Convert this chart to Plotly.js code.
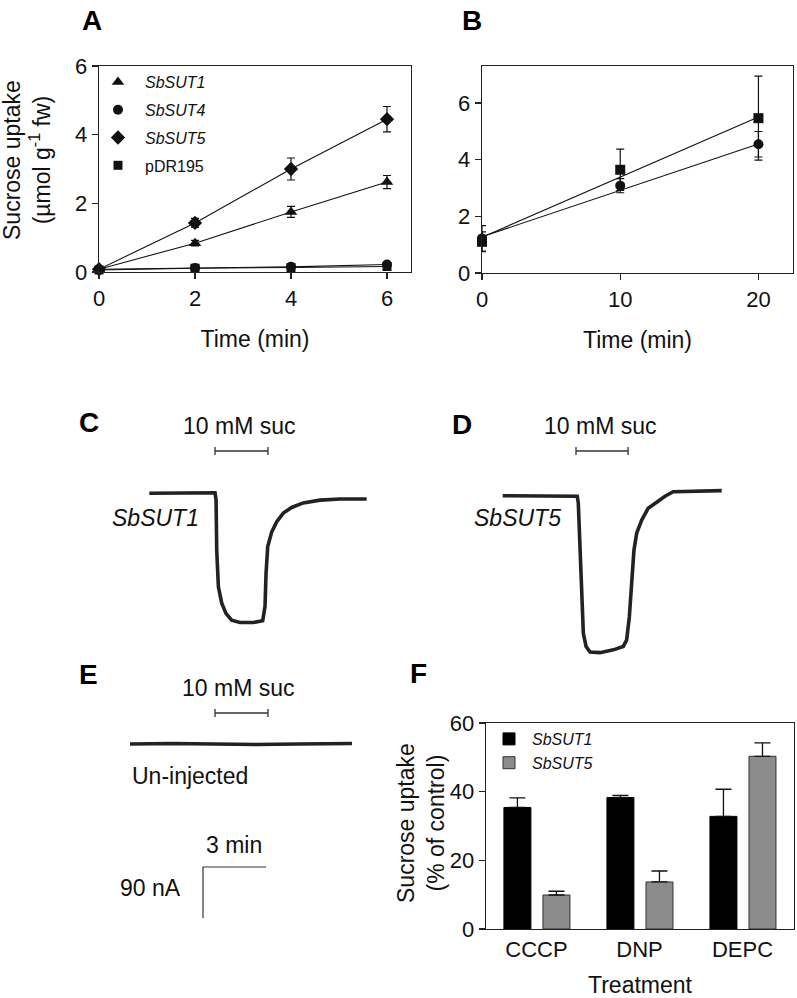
<!DOCTYPE html>
<html><head><meta charset="utf-8">
<script src="https://cdn.plot.ly/plotly-3.0.1.min.js"></script>
<style>html,body{margin:0;padding:0;background:#fff}#chart{width:797px;height:998px}</style>
</head><body><div id="chart"></div>
<script>
// ---------- DATA ----------
// Panel A: sucrose uptake in yeast (umol g-1 fw) vs time (min)
const timeA = [0, 2, 4, 6];
const sut1A = [0.08, 0.84, 1.75, 2.62];
const sut1AErr = [0.02, 0.08, 0.16, 0.19];
const sut4A = [0.08, 0.12, 0.15, 0.22];
const sut4AErr = [0.02, 0.02, 0.03, 0.05];
const sut5A = [0.08, 1.43, 3.0, 4.45];
const sut5AErr = [0.03, 0.13, 0.32, 0.37];
const pdrA = [0.06, 0.11, 0.13, 0.16];
const pdrAErr = [0.02, 0.02, 0.03, 0.03];
const namesA = ['SbSUT1', 'SbSUT4', 'SbSUT5', 'pDR195'];

// Panel B
const timeB = [0, 10, 20];
const circB = [1.22, 3.08, 4.54];
const circBErr = [0.45, 0.25, 0.45];
const sqB = [1.1, 3.64, 5.46];
const sqBErr = [0.35, 0.73, 1.48];
const fitTimeB = [0, 20];
const fitCircB = [1.28, 4.55];
const fitSqB = [1.26, 5.5];

// Panels C-E: current traces, time (min) and current (nA)
const timeC = [0, 3.13, 3.18, 3.21, 3.29, 3.45, 3.65, 3.92, 4.32, 4.95, 5.40, 5.51, 5.56, 5.64, 5.83, 6.07, 6.38, 6.78, 7.33, 8.13, 9.08, 10.35];
const currC = [0, 1, -12, -100, -165, -194, -212, -224, -228, -228, -225, -200, -141, -94, -68, -50, -35, -25, -17, -12, -10, -10];
const timeD = [0, 3.55, 3.60, 3.68, 3.76, 3.84, 3.97, 4.16, 4.63, 5.27, 5.74, 5.90, 6.03, 6.14, 6.25, 6.38, 6.62, 6.93, 7.33, 7.73, 8.12, 8.92, 10.43];
const currD = [0, -1, -13, -96, -184, -243, -266, -276, -277, -272, -266, -255, -214, -155, -96, -66, -43, -22, -11, -1, 7, 8, 9];
const timeE = [0, 2, 4, 5, 6, 8, 10.57];
const currE = [0, 1, 0, -1, -1, 0, 1];
const sucC = [3.13, 5.65];
const sucD = [3.49, 5.97];
const sucE = [4.05, 6.57];
const traceLabels = ['SbSUT1', 'SbSUT5', 'Un-injected'];
const sucLabel = '10 mM suc';
const scaleMin = 3;
const scaleNA = 90;

// Panel F
const treatments = ['CCCP', 'DNP', 'DEPC'];
const sut1F = [35.4, 38.3, 32.8];
const sut1FErr = [2.8, 0.6, 7.9];
const sut5F = [9.9, 13.7, 50.3];
const sut5FErr = [1.1, 3.2, 3.9];
const namesF = ['SbSUT1', 'SbSUT5'];

// ---------- LAYOUT HELPERS ----------
const W = 797, H = 998;
const FONT = 'Liberation Sans, Arial, Helvetica, sans-serif';
const fx = p => p / W;
const fy = p => 1 - p / H;
const xdom = (a, b) => [fx(a), fx(b)];
const ydom = (top, bottom) => [fy(bottom), fy(top)];
const PX_PER_MIN = 21, PX_PER_NA = 51 / 90;

function traceAxes(x0, x1, top, bottom, ox, oy, n) {
  return {
    x: {domain: xdom(x0, x1), range: [(x0 - ox) / PX_PER_MIN, (x1 - ox) / PX_PER_MIN], visible: false, anchor: 'y' + n, fixedrange: true},
    y: {domain: ydom(top, bottom), range: [-(bottom - oy) / PX_PER_NA, (oy - top) / PX_PER_NA], visible: false, anchor: 'x' + n, fixedrange: true}
  };
}

const axStyle = {
  showline: true, linecolor: '#222', linewidth: 1.3, mirror: true,
  ticks: 'outside', ticklen: 6, tickwidth: 1.3, tickcolor: '#222',
  showgrid: false, zeroline: false,
  tickfont: {family: FONT, size: 22, color: '#111'}
};

const traces = [];
const ink = '#111';
const errStyle = (arr) => ({type: 'data', array: arr, visible: true, color: ink, thickness: 1.2, width: 4});

// Panel A lines
[sut1A, sut4A, sut5A, pdrA].forEach(v => traces.push({
  x: timeA, y: v, xaxis: 'x', yaxis: 'y', mode: 'lines', showlegend: false,
  line: {color: ink, width: 1.1}, cliponaxis: false, hoverinfo: 'skip'
}));
// Panel A markers
const symA = ['triangle-up', 'circle', 'diamond', 'square'];
const sizeA = [11, 10, 11, 9];
[[sut1A, sut1AErr], [sut4A, sut4AErr], [sut5A, sut5AErr], [pdrA, pdrAErr]].forEach((d, i) => traces.push({
  x: timeA, y: d[0], error_y: errStyle(d[1]), xaxis: 'x', yaxis: 'y', mode: 'markers',
  name: i < 3 ? '<i>' + namesA[i] + '</i>' : namesA[i], legend: 'legend', legendgroup: 'a' + i,
  marker: {symbol: symA[i], size: sizeA[i], color: ink}, cliponaxis: false
}));

// Panel B
traces.push({x: fitTimeB, y: fitSqB, xaxis: 'x2', yaxis: 'y2', mode: 'lines', showlegend: false, line: {color: ink, width: 1.1}, cliponaxis: false});
traces.push({x: fitTimeB, y: fitCircB, xaxis: 'x2', yaxis: 'y2', mode: 'lines', showlegend: false, line: {color: ink, width: 1.1}, cliponaxis: false});
traces.push({x: timeB, y: sqB, error_y: errStyle(sqBErr), xaxis: 'x2', yaxis: 'y2', mode: 'markers', showlegend: false, marker: {symbol: 'square', size: 10, color: ink}, cliponaxis: false});
traces.push({x: timeB, y: circB, error_y: errStyle(circBErr), xaxis: 'x2', yaxis: 'y2', mode: 'markers', showlegend: false, marker: {symbol: 'circle', size: 10, color: ink}, cliponaxis: false});

// Panels C, D, E geometry (pixel boxes and trace origin)
const geo = {
  C: {box: [100, 390, 400, 640], o: [149.3, 493.3], n: 3},
  D: {box: [460, 790, 400, 670], o: [502.7, 495.7], n: 4},
  E: {box: [100, 390, 660, 935], o: [130, 744], n: 5}
};
const sucBarPy = {C: 451, D: 451, E: 713};
const capNA = 4 / PX_PER_NA;
const ephys = [['C', timeC, currC, sucC], ['D', timeD, currD, sucD], ['E', timeE, currE, sucE]];
ephys.forEach(([k, t, c, s]) => {
  const g = geo[k];
  traces.push({x: t, y: c, xaxis: 'x' + g.n, yaxis: 'y' + g.n, mode: 'lines', showlegend: false,
    line: {color: '#222', width: 3.6}, cliponaxis: false});
  const lvl = (g.o[1] - sucBarPy[k]) / PX_PER_NA;
  traces.push({x: s, y: [lvl, lvl], xaxis: 'x' + g.n, yaxis: 'y' + g.n, mode: 'lines', showlegend: false,
    line: {color: '#333', width: 1.3},
    error_y: {type: 'data', array: [capNA, capNA], color: '#333', thickness: 1.3, width: 0}, cliponaxis: false});
});
// scale bar in E
const sbT0 = (203 - geo.E.o[0]) / PX_PER_MIN;
const sbI0 = -(867 - geo.E.o[1]) / PX_PER_NA;
traces.push({x: [sbT0 + scaleMin, sbT0, sbT0], y: [sbI0, sbI0, sbI0 - scaleNA], xaxis: 'x5', yaxis: 'y5',
  mode: 'lines', showlegend: false, line: {color: '#333', width: 1.2}, cliponaxis: false});

// Panel F
traces.push({x: treatments, y: sut1F, type: 'bar', xaxis: 'x6', yaxis: 'y6', name: '<i>' + namesF[0] + '</i>',
  legend: 'legend2', width: 0.262, offset: -0.316,
  marker: {color: '#000', line: {color: '#000', width: 1}},
  error_y: {type: 'data', symmetric: false, array: sut1FErr, arrayminus: [0, 0, 0], color: '#111', thickness: 1.3, width: 8}});
traces.push({x: treatments, y: sut5F, type: 'bar', xaxis: 'x6', yaxis: 'y6', name: '<i>' + namesF[1] + '</i>',
  legend: 'legend2', width: 0.262, offset: 0.063,
  marker: {color: '#8c8c8c', line: {color: '#333', width: 1}},
  error_y: {type: 'data', symmetric: false, array: sut5FErr, arrayminus: [0, 0, 0], color: '#111', thickness: 1.3, width: 8}});

const tC = traceAxes(...geo.C.box, ...geo.C.o, 3);
const tD = traceAxes(...geo.D.box, ...geo.D.o, 4);
const tE = traceAxes(...geo.E.box, ...geo.E.o, 5);

const titleFont = {family: FONT, size: 23, color: '#111'};
const layout = {
  width: W, height: H, margin: {l: 0, r: 0, t: 0, b: 0},
  paper_bgcolor: '#fff', plot_bgcolor: 'rgba(0,0,0,0)',
  font: {family: FONT, color: '#111'},
  showlegend: true, barmode: 'overlay',
  xaxis: Object.assign({}, axStyle, {domain: xdom(99, 411), range: [0, 6.5], tickvals: [0, 2, 4, 6], anchor: 'y',
    title: {text: 'Time (min)', font: titleFont, standoff: 21}}),
  yaxis: Object.assign({}, axStyle, {domain: ydom(66, 272), range: [0, 6], tickvals: [0, 2, 4, 6], anchor: 'x'}),
  xaxis2: Object.assign({}, axStyle, {domain: xdom(482, 793), range: [0, 22.5], tickvals: [0, 10, 20], anchor: 'y2',
    title: {text: 'Time (min)', font: titleFont, standoff: 21}}),
  yaxis2: Object.assign({}, axStyle, {domain: ydom(66, 273), range: [0, 7.3], tickvals: [0, 2, 4, 6], anchor: 'x2'}),
  xaxis3: tC.x, yaxis3: tC.y, xaxis4: tD.x, yaxis4: tD.y, xaxis5: tE.x, yaxis5: tE.y,
  xaxis6: Object.assign({}, axStyle, {domain: xdom(486, 794), range: [-0.49, 2.5], anchor: 'y6', type: 'category', ticks: '',
    tickfont: {family: FONT, size: 22, color: '#111'},
    title: {text: 'Treatment', font: titleFont, standoff: 20}}),
  yaxis6: Object.assign({}, axStyle, {domain: ydom(723, 929), range: [0, 60], tickvals: [0, 20, 40, 60], anchor: 'x6'}),
  legend: {x: fx(91), y: fy(65), xanchor: 'left', yanchor: 'top', bgcolor: 'rgba(0,0,0,0)',
    font: {family: FONT, size: 16, color: '#111'}, itemwidth: 44, tracegroupgap: 4},
  legend2: {x: fx(486), y: fy(722), xanchor: 'left', yanchor: 'top', bgcolor: 'rgba(0,0,0,0)',
    font: {family: FONT, size: 16, color: '#111'}, itemwidth: 36, tracegroupgap: 0},
  annotations: []
};

const ann = (text, x, y, opts) => layout.annotations.push(Object.assign({
  text, x: fx(x), y: fy(y), xref: 'paper', yref: 'paper', showarrow: false,
  xanchor: 'center', yanchor: 'middle', font: {family: FONT, size: 23, color: '#111'}
}, opts || {}));

const letterFont = {family: FONT, size: 28, color: '#000', weight: 'bold'};
[['A', 92, 20], ['B', 472, 20], ['C', 89, 422], ['D', 462, 424], ['E', 88, 674], ['F', 418, 673]]
  .forEach(([t, x, y]) => ann('<b>' + t + '</b>', x, y, {font: letterFont}));

ann('Sucrose uptake<br>(µmol g<sup>-1</sup> fw)', 27, 160, {textangle: -90});
ann('Sucrose uptake<br>(% of control)', 421, 823, {textangle: -90});
ann(sucLabel, 238.5, 426);
ann(sucLabel, 600, 426);
ann(sucLabel, 238, 688);
ann('<i>' + traceLabels[0] + '</i>', 201, 518, {xanchor: 'right'});
ann('<i>' + traceLabels[1] + '</i>', 563, 518, {xanchor: 'right'});
ann(traceLabels[2], 130, 776, {xanchor: 'left'});
ann(scaleMin + ' min', 234, 845);
ann(scaleNA + ' nA', 183, 888, {xanchor: 'right'});

Plotly.newPlot('chart', traces, layout, {displayModeBar: false, staticPlot: true});
</script>
</body></html>
